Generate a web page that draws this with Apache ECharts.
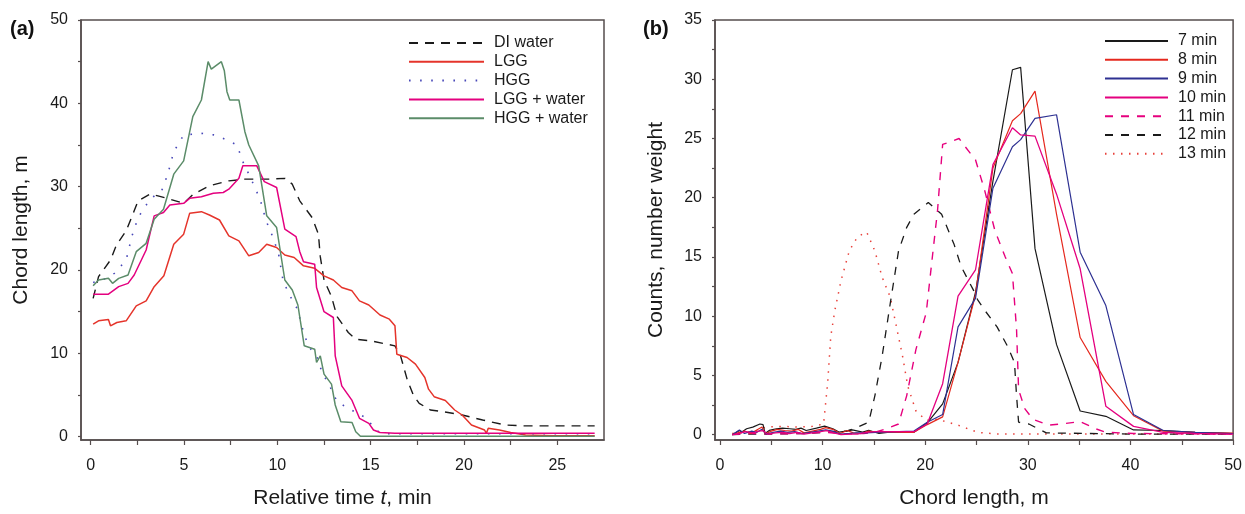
<!DOCTYPE html>
<html><head><meta charset="utf-8">
<script src="https://cdn.jsdelivr.net/npm/echarts@6/dist/echarts.min.js"></script>
<style>html,body{margin:0;padding:0;background:#fff}#c{width:1245px;height:514px}</style>
</head><body><div id="c"></div>
<script>
// ---------- Panel (a): chord length vs relative time ----------
const aXLabels = [0, 5, 10, 15, 20, 25];
const aXTicks = [0, 2.5, 5, 7.5, 10, 12.5, 15, 17.5, 20, 22.5, 25];
const aYLabels = [0, 10, 20, 30, 40, 50];
const aYTicks = [0, 5, 10, 15, 20, 25, 30, 35, 40, 45, 50];
const aNames = ['DI water', 'LGG', 'HGG', 'LGG + water', 'HGG + water'];

const diWater = [[0.13,16.6],[0.42,19.2],[1.06,21.2],[1.38,23.0],[1.9,24.7],[2.33,27.1],[2.54,28.3],[3.18,29.1],[3.6,28.9],[4.24,28.5],[4.98,28.0],[5.5,29.1],[6.36,30.1],[7.4,30.7],[8.26,30.9],[9.53,30.9],[10.4,31.0],[10.8,30.3],[11.2,28.3],[11.86,26.3],[12.2,24.3],[12.3,21.6],[12.5,18.8],[12.9,16.8],[13.2,14.4],[13.8,12.5],[14.2,11.7],[15.0,11.5],[16.3,10.9],[16.6,9.7],[16.95,6.9],[17.3,4.9],[17.6,4.0],[18.2,3.2],[18.9,3.0],[19.9,2.6],[21.0,2.0],[22.2,1.4],[23.1,1.3],[27.0,1.3]];
const lgg = [[0.13,13.5],[0.42,13.9],[0.95,14.05],[1.06,13.3],[1.4,13.7],[1.9,13.9],[2.44,15.7],[2.97,16.3],[3.4,18.0],[3.92,19.3],[4.45,23.1],[4.98,24.3],[5.3,26.8],[5.93,27.0],[6.36,26.6],[6.9,26.0],[7.4,24.1],[7.94,23.5],[8.47,21.7],[9.0,22.1],[9.43,23.1],[9.96,22.7],[10.4,21.8],[10.9,21.5],[11.4,20.5],[12.0,20.2],[12.5,19.3],[13.0,18.8],[13.45,17.9],[14.0,17.5],[14.4,16.3],[14.9,15.8],[15.5,14.6],[16.0,14.1],[16.3,13.3],[16.4,9.9],[16.95,9.5],[17.4,8.7],[17.9,7.1],[18.1,5.7],[18.4,4.8],[19.0,4.35],[19.5,3.2],[19.9,2.6],[20.4,1.4],[21.1,0.8],[21.2,0.4],[21.3,1.0],[21.9,0.8],[22.5,0.5],[23.3,0.2],[24.8,0.1],[27.0,0.1]];
const hgg = [[0.13,18.5],[0.64,18.8],[1.27,19.6],[1.9,21.2],[2.2,24.0],[2.54,26.3],[3.18,28.5],[3.8,29.5],[4.13,31.5],[4.45,34.2],[4.98,36.2],[5.93,36.4],[6.67,36.2],[7.3,35.6],[7.84,35.0],[8.15,33.0],[8.47,31.5],[8.8,29.9],[9.1,28.3],[9.4,25.9],[9.75,24.0],[10.06,22.0],[10.3,18.8],[10.6,17.2],[11.1,15.2],[11.3,13.3],[11.65,10.9],[12.1,9.7],[12.4,7.7],[12.8,6.1],[13.2,4.2],[13.8,3.4],[14.3,2.8],[14.8,2.2],[15.25,0.8],[15.7,0.35],[27.0,0.35]];
const lggWater = [[0.13,17.1],[0.95,17.1],[1.5,18.0],[2.0,18.4],[2.33,19.4],[2.97,22.4],[3.4,26.5],[3.9,26.9],[4.24,27.8],[4.98,28.0],[5.3,28.6],[5.93,28.8],[6.57,29.2],[7.1,29.3],[7.4,29.7],[7.94,31.0],[8.15,32.5],[8.9,32.5],[9.3,30.6],[9.96,29.9],[10.4,24.9],[11.0,24.0],[11.2,22.2],[11.4,21.0],[12.0,20.7],[12.1,17.9],[12.5,15.0],[13.0,14.3],[13.1,9.7],[13.45,6.1],[14.0,4.35],[14.4,2.2],[14.9,1.6],[15.15,0.8],[15.5,0.5],[16.3,0.4],[27.0,0.4]];
const hggWater = [[0.13,18.1],[0.42,18.8],[0.95,19.0],[1.17,18.4],[1.5,19.0],[2.0,19.4],[2.44,22.2],[2.97,23.2],[3.4,26.1],[3.9,27.3],[4.45,31.5],[4.98,33.1],[5.47,38.4],[5.93,40.4],[6.29,45.0],[6.46,44.1],[7.0,45.0],[7.16,43.9],[7.3,41.4],[7.45,40.4],[7.94,40.4],[8.26,36.6],[8.47,35.0],[9.0,32.5],[9.43,26.5],[9.96,25.1],[10.4,18.8],[10.8,17.6],[11.1,15.8],[11.44,10.9],[12.0,10.5],[12.1,8.9],[12.3,9.7],[12.5,7.5],[12.9,6.3],[13.1,3.8],[13.4,1.8],[14.0,1.7],[14.2,0.6],[14.45,0.05],[27.0,0.05]];

// ---------- Panel (b): chord length distributions ----------
const bXLabels = [0, 10, 20, 30, 40, 50];
const bXTicks = [0, 5, 10, 15, 20, 25, 30, 35, 40, 45, 50];
const bYLabels = [0, 5, 10, 15, 20, 25, 30, 35];
const bYTicks = [0, 2.5, 5, 7.5, 10, 12.5, 15, 17.5, 20, 22.5, 25, 27.5, 30, 32.5, 35];
const bNames = ['7 min', '8 min', '9 min', '10 min', '11 min', '12 min', '13 min'];

const min7 = [[1.2,0],[1.9,0.36],[2.1,0.2],[2.6,0.5],[3.2,0.64],[3.9,0.9],[4.2,0.85],[4.4,0.1],[4.8,0.36],[5.5,0.5],[6.1,0.55],[6.8,0.5],[7.4,0.45],[7.9,0.55],[8.4,0.35],[9.4,0.55],[10.2,0.72],[11.0,0.5],[11.6,0.22],[12.3,0.3],[12.9,0.4],[13.9,0.22],[14.5,0.36],[15.5,0.1],[16.3,0.2],[18.9,0.2],[20.2,1.0],[21.7,2.6],[23.2,6.1],[24.9,12.0],[26.6,21.4],[28.5,30.8],[29.3,31.0],[30.7,15.7],[32.8,7.6],[35.1,2.0],[37.6,1.55],[40.3,0.4],[43.2,0.35],[46.3,0.2],[50,0.1]];
const min8 = [[1.2,0],[1.9,0.2],[2.4,0.3],[3.0,0.1],[3.5,0.35],[4.1,0.65],[4.4,0.05],[5.0,0.3],[5.6,0.45],[6.3,0.35],[7.0,0.3],[7.6,0.45],[8.2,0.15],[9.0,0.3],[9.8,0.45],[10.3,0.6],[11.0,0.45],[11.7,0.1],[12.4,0.35],[13.0,0.15],[13.8,0.1],[14.5,0.3],[15.3,0.2],[18.9,0.2],[20.2,0.85],[21.7,1.5],[23.2,6.1],[24.9,11.8],[26.6,22.5],[28.5,26.5],[29.3,27.1],[30.7,29.0],[32.8,18.6],[35.1,8.2],[37.6,4.5],[40.3,1.6],[43.2,0.3],[46.3,0.2],[50,0.14]];
const min9 = [[1.2,0],[1.9,0.4],[2.4,0.1],[3.1,0.3],[3.6,0.2],[4.1,0.45],[4.5,0.05],[5.2,0.2],[5.9,0.3],[6.6,0.2],[7.3,0.25],[8.0,0.1],[8.8,0.2],[9.6,0.3],[10.3,0.4],[11.0,0.3],[11.7,0.05],[12.5,0.1],[13.3,0.15],[14.2,0.15],[15.2,0.2],[18.9,0.3],[20.2,1.05],[21.7,1.7],[23.2,9.1],[24.9,11.5],[26.6,20.8],[28.5,24.3],[29.3,24.9],[30.7,26.7],[32.8,27.0],[35.1,15.4],[37.6,10.9],[40.3,1.7],[43.2,0.35],[46.3,0.2],[50,0.1]];
const min10 = [[1.2,0],[1.9,0.1],[2.5,0.25],[3.2,0.15],[3.8,0.3],[4.2,0.35],[4.6,0.05],[5.4,0.15],[6.1,0.2],[6.8,0.1],[7.5,0.2],[8.2,0.05],[9.0,0.15],[9.8,0.25],[10.4,0.35],[11.1,0.15],[11.8,0.0],[12.6,0.05],[13.4,0.05],[14.2,0.2],[15.2,0.25],[18.9,0.25],[20.2,0.9],[21.7,4.3],[23.2,11.7],[24.9,13.9],[26.6,22.8],[28.5,25.9],[29.3,25.3],[30.7,25.2],[32.8,20.3],[35.1,14.0],[37.6,2.4],[40.3,0.7],[43.2,0.2],[46.3,0.1],[50,0.05]];
const min11 = [[1.2,0],[3,0.1],[5,0.05],[8,0.1],[10.3,0.2],[12,0.05],[14,0.1],[15.1,0.2],[16.2,0.5],[17.4,0.9],[18.2,3.3],[19.1,7.2],[20.1,10.3],[20.8,15.8],[21.2,18.9],[21.7,24.5],[22.4,24.7],[23.3,25.0],[23.9,24.3],[24.9,23.2],[25.8,20.6],[26.8,17.2],[27.8,15.0],[28.5,13.6],[28.9,8.9],[29.1,3.8],[29.7,2.2],[30.5,1.3],[32.0,0.8],[33.2,0.9],[35.1,1.1],[36.6,0.5],[37.6,0.2],[40.3,0.1],[50,0.05]];
const min12 = [[1.2,0],[2.5,0.05],[5,0.05],[8,0.1],[10.5,0.2],[12.3,0.3],[13.2,0.55],[14.5,1.05],[15.1,3.3],[15.8,6.6],[16.6,11.1],[17.4,15.5],[18.2,17.5],[18.9,18.6],[20.3,19.6],[21.6,18.6],[22.8,16.1],[23.5,14.2],[24.7,12.2],[25.1,11.4],[25.8,10.5],[27.0,9.1],[28.0,7.5],[28.7,6.1],[28.9,3.3],[29.1,1.05],[30.1,0.9],[31.8,0.15],[32.8,0.14],[40,0.05],[50,0.05]];
const min13 = [[1.2,0.1],[2.5,0.2],[3.5,0.3],[4.5,0.65],[6,0.7],[7.5,0.65],[9,0.7],[10.1,0.9],[10.5,4.4],[10.8,8.3],[11.2,10.5],[11.8,13.0],[12.6,15.5],[13.4,16.7],[14.3,17.1],[15.1,15.5],[15.8,13.3],[16.6,11.6],[17.2,9.1],[17.8,6.6],[18.3,4.1],[19.1,2.0],[20.1,1.2],[21.2,1.3],[23.2,0.8],[25.1,0.2],[27,0.05],[50,0.05]];

const FONT = 'Liberation Sans, Arial, sans-serif';
const AX = '#564e4e';
function mkX(grid, min, max, labels, ticks, name) {
  return {
    type: 'value', gridIndex: grid, min: min, max: max,
    name: name, nameLocation: 'middle', nameGap: 48,
    nameTextStyle: { fontFamily: FONT, fontSize: 21, color: '#1a1a1a',
      rich: { i: { fontFamily: FONT, fontSize: 21, fontStyle: 'italic', color: '#1a1a1a' } } },
    axisLine: { show: true, onZero: false, lineStyle: { color: AX, width: 1.5 } },
    axisTick: { show: true, inside: false, length: 5, customValues: ticks, lineStyle: { color: AX, width: 1.2 } },
    axisLabel: { customValues: labels, margin: 18, fontFamily: FONT, fontSize: 16, color: '#1a1a1a' },
    splitLine: { show: false }
  };
}
function mkY(grid, min, max, labels, ticks, name, gap) {
  return {
    type: 'value', gridIndex: grid, min: min, max: max,
    name: name, nameLocation: 'middle', nameGap: gap,
    nameTextStyle: { fontFamily: FONT, fontSize: 21, color: '#1a1a1a' },
    axisLine: { show: true, onZero: false, lineStyle: { color: AX, width: 1.5 } },
    axisTick: { show: true, inside: false, length: 3, customValues: ticks, lineStyle: { color: AX, width: 1.2 } },
    axisLabel: { customValues: labels, margin: 13, fontFamily: FONT, fontSize: 16, color: '#1a1a1a' },
    splitLine: { show: false }
  };
}
function ln(name, data, color, type, ax, width) {
  return {
    name: name, type: 'line', data: data, xAxisIndex: ax, yAxisIndex: ax,
    symbol: 'none', smooth: false, silent: true,
    lineStyle: { color: color, width: width || 1.4, type: type || 'solid' },
    itemStyle: { color: color }
  };
}
const legendText = { fontFamily: FONT, fontSize: 16, color: '#1a1a1a', lineHeight: 14, padding: [0, 0, 0, 5] };

const chart = echarts.init(document.getElementById('c'), null, { renderer: 'canvas' });
chart.setOption({
  animation: false,
  backgroundColor: '#fff',
  title: [
    { text: '(a)', left: 5, top: 14, textStyle: { fontFamily: FONT, fontSize: 20, fontWeight: 'bold', color: '#111' } },
    { text: '(b)', left: 638, top: 14, textStyle: { fontFamily: FONT, fontSize: 20, fontWeight: 'bold', color: '#111' } }
  ],
  grid: [
    { left: 81, top: 20, width: 523, height: 424, show: true, borderColor: AX, borderWidth: 1.5, containLabel: false },
    { left: 715, top: 20, width: 524, height: 424, show: true, borderColor: AX, borderWidth: 1.5, containLabel: false }
  ],
  xAxis: [
    mkX(0, -0.52, 27.5, aXLabels, aXTicks, 'Relative time {i|t}, min'),
    mkX(1, -0.48, 50, bXLabels, bXTicks, 'Chord length, m')
  ],
  yAxis: [
    mkY(0, -0.4, 50, aYLabels, aYTicks, 'Chord length, m', 49),
    mkY(1, -0.45, 35, bYLabels, bYTicks, 'Counts, number weight', 48)
  ],
  legend: [
    { data: aNames, orient: 'vertical', left: 403, top: 30, padding: 5, itemWidth: 75, itemHeight: 14, itemGap: 2.8,
      itemStyle: { opacity: 0, borderWidth: 0 }, textStyle: legendText, selectedMode: false },
    { data: bNames, orient: 'vertical', left: 1099, top: 28, padding: 5, itemWidth: 63, itemHeight: 14, itemGap: 2.8,
      itemStyle: { opacity: 0, borderWidth: 0 }, textStyle: legendText, selectedMode: false }
  ],
  series: [
    ln('DI water', diWater, '#1a1a1a', [9, 7], 0, 1.4),
    ln('LGG', lgg, '#e5342b', 'solid', 0, 1.5),
    ln('HGG', hgg, '#4848b8', [1.6, 9.5], 0, 1.6),
    ln('LGG + water', lggWater, '#e4007f', 'solid', 0, 1.5),
    ln('HGG + water', hggWater, '#5b8c69', 'solid', 0, 1.5),
    ln('13 min', min13, '#e8403a', [1.5, 6.5], 1, 1.5),
    ln('12 min', min12, '#1a1a1a', [8, 8], 1, 1.3),
    ln('11 min', min11, '#e6007e', [8, 8], 1, 1.4),
    ln('7 min', min7, '#1a1a1a', 'solid', 1, 1.2),
    ln('8 min', min8, '#e5281e', 'solid', 1, 1.2),
    ln('9 min', min9, '#2e3192', 'solid', 1, 1.2),
    ln('10 min', min10, '#e4007f', 'solid', 1, 1.3)
  ]
});
</script></body></html>
